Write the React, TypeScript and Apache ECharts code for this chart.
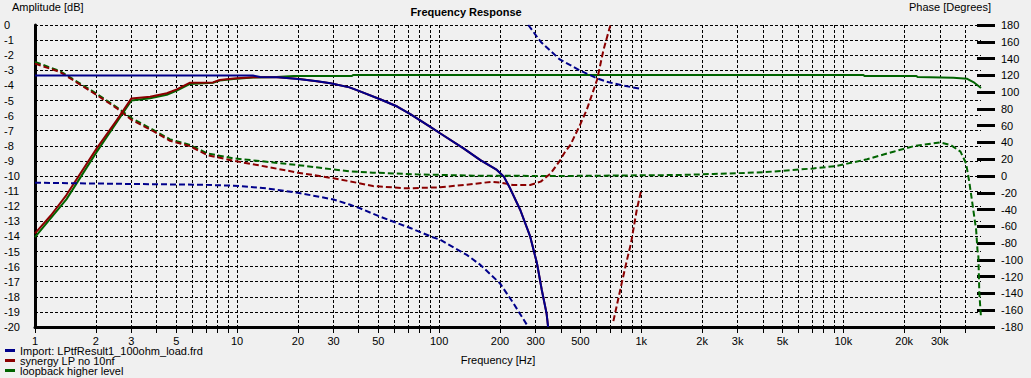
import React, { useEffect, useRef } from 'react';
import * as echarts from 'echarts';

const FONT = '"Liberation Sans", Arial, sans-serif';

const seriesNames = ['Import: LPtfResult1_100ohm_load.frd', 'synergy LP no 10nf', 'loopback higher level'];
const seriesColors = ['#00008b', '#8b0000', '#006400'];

const gridFreqs = [
  1, 2, 3, 4, 5, 6, 7, 8, 9,
  10, 20, 30, 40, 50, 60, 70, 80, 90,
  100, 200, 300, 400, 500, 600, 700, 800, 900,
  1000, 2000, 3000, 4000, 5000, 6000, 7000, 8000, 9000,
  10000, 20000, 30000, 40000,
];
const labelFreqs = [1, 2, 3, 5, 10, 20, 30, 50, 100, 200, 300, 500, 1000, 2000, 3000, 5000, 10000, 20000, 30000];

// Magnitude [dB] as [Hz, dB]
const importMag: [number, number][] = [
  [1, -3.35], [12, -3.35], [13, -3.45], [16, -3.46], [20, -3.57], [25, -3.72], [29, -3.86], [36, -4.13],
  [40.6, -4.4], [51, -4.92], [62, -5.4], [72, -5.9], [90, -6.73], [101, -7.17], [132, -8.17], [160, -8.95],
  [193, -9.6], [209, -10.04], [225, -10.85], [252, -12.25], [282, -14.0], [305, -15.8], [322, -17.55],
  [340, -19.1], [346, -20],
];
const synergyMag: [number, number][] = [
  [1, -13.8], [1.2, -12.6], [1.43, -11.26], [2.02, -8.17], [2.54, -6.3], [3, -4.86], [3.71, -4.75],
  [4.49, -4.52], [5.03, -4.26], [5.85, -3.82], [7.6, -3.8], [8.2, -3.64], [9.6, -3.55], [12, -3.46],
  [15.7, -3.46], [20.5, -3.58], [29, -3.86], [36, -4.13], [40.6, -4.4], [51, -4.92], [62, -5.4],
  [72, -5.9], [90, -6.73], [101, -7.17], [132, -8.17], [160, -8.95], [193, -9.6], [209, -10.04],
  [225, -10.85], [252, -12.25], [282, -14.0], [305, -15.8], [322, -17.55], [340, -19.1], [346, -20],
];
const loopbackMag: [number, number][] = [
  [1, -14.05], [1.43, -11.55], [2.02, -8.4], [3, -5.0], [3.71, -4.85], [4.49, -4.62], [5.03, -4.35],
  [5.85, -3.9], [7.6, -3.82], [8.2, -3.68], [9.6, -3.57], [12, -3.48], [15.7, -3.45], [19, -3.38],
  [37, -3.38], [37.5, -3.31], [12600, -3.31], [12700, -3.38], [23000, -3.38], [23300, -3.44],
  [35000, -3.5], [41000, -3.56], [44500, -3.82], [48000, -4.17],
];

// Phase [deg] as [Hz, deg]; wrapped parts are separate segments
const importPhaseA: [number, number][] = [
  [1, -8], [3, -9.5], [6.6, -10.4], [9.6, -11.5], [14, -14.7], [20, -20], [30, -28], [36, -34],
  [40.6, -38.5], [51, -48.5], [72, -62], [93, -73], [101, -76], [137, -94], [160, -106], [200, -128],
  [232, -151], [260, -170], [276, -180],
];
const importPhaseB: [number, number][] = [
  [276, 180], [286, 175], [318, 160], [395, 139], [500, 125.5], [604, 116.5], [673, 112.4], [790, 108.5], [1000, 103.7],
];
const synergyPhaseA: [number, number][] = [
  [1, 134], [1.33, 124], [2.02, 96.6], [2.54, 80.7], [3.0, 67], [3.71, 55.5], [4.66, 42], [5.85, 35.6],
  [7.1, 25], [9.6, 18.2], [14, 11], [20, 4], [30, -2.7], [36.4, -6.5], [47, -12], [69, -14.7], [101, -13.5],
  [148, -9.5], [180, -7], [200, -7.8], [232, -10.7], [282, -10.7], [318, -6.7], [356, 3], [395, 18],
  [420, 29], [446, 37], [500, 62], [537, 78.7], [604, 114.4], [650, 150], [700, 178], [703, 180],
];
const synergyPhaseB: [number, number][] = [
  [728, -173], [800, -128], [850, -100], [890, -80], [950, -40.5], [1000, -16.7],
];
const loopbackPhase: [number, number][] = [
  [1, 136], [1.33, 125], [2.02, 98], [2.54, 82], [3.0, 69], [3.71, 57], [4.66, 43.7], [5.85, 37], [7.1, 27],
  [9.6, 21], [14, 17], [20, 13], [36, 5.5], [47, 4], [77, 2], [148, 0.4], [400, 0], [1560, 1.2],
  [2270, 2.4], [4000, 4.4], [5500, 7], [7100, 9], [9300, 12], [13100, 20], [17700, 29], [22300, 35.6],
  [30000, 40], [34000, 37], [38000, 29], [40500, 15], [42000, -7], [43500, -32.5], [45400, -64],
  [46100, -88], [46600, -96], [47100, -140], [48000, -168.5],
];

const fmtFreq = (v: number) => {
  const r = Math.round(v);
  return r >= 1000 ? Math.round(r / 1000) + 'k' : String(r);
};

export default function App() {
  const ref = useRef<HTMLDivElement>(null);
  useEffect(() => {
    document.body.style.margin = '0';
    const chart = echarts.init(ref.current!, undefined, { renderer: 'svg' });
    const magLine = (name: string, color: string, data: [number, number][]) => ({
      type: 'line', name, data, yAxisIndex: 0, showSymbol: false, symbol: 'none',
      lineStyle: { color, width: 2 }, itemStyle: { color }, silent: true,
    });
    const phaseLine = (name: string, color: string, data: [number, number][]) => ({
      type: 'line', name, data, yAxisIndex: 1, showSymbol: false, symbol: 'none',
      lineStyle: { color, width: 2, type: [6, 3] }, itemStyle: { color }, silent: true,
    });
    chart.setOption({
      animation: false,
      backgroundColor: '#f0f0f0',
      textStyle: { fontFamily: FONT },
      grid: { left: 35, top: 25, right: 50, bottom: 51, containLabel: false },
      legend: {
        orient: 'vertical', left: 5, top: 345, padding: 0, itemGap: -1,
        itemWidth: 10, itemHeight: 3, icon: 'rect', selectedMode: false,
        data: seriesNames,
        textStyle: { fontSize: 11, color: '#000', fontFamily: FONT },
      },
      xAxis: {
        type: 'log', logBase: 10, min: 1, max: 48000,
        axisLine: { show: true, onZero: false, lineStyle: { color: '#000', width: 3 } },
        axisTick: { show: true, length: 6, customValues: gridFreqs, lineStyle: { color: '#000', width: 1 } },
        axisLabel: {
          customValues: labelFreqs, formatter: fmtFreq, margin: 8,
          color: '#000', fontSize: 11, fontFamily: FONT,
        },
        splitLine: { show: true, lineStyle: { color: '#000', width: 1, type: [3, 2] } },
        minorTick: { show: false },
      },
      yAxis: [
        {
          type: 'value', min: -20, max: 0, interval: 1, position: 'left',
          axisLine: { show: true, onZero: false, lineStyle: { color: '#000', width: 3 } },
          axisTick: { show: false },
          axisLabel: { align: 'left', margin: 31, color: '#000', fontSize: 11, fontFamily: FONT },
          splitLine: { show: true, lineStyle: { color: '#000', width: 1, type: [3, 2] } },
        },
        {
          type: 'value', min: -180, max: 180, interval: 20, position: 'right', offset: -4,
          axisLine: { show: false, onZero: false },
          axisTick: { show: true, length: 18, lineStyle: { color: '#000', width: 3 } },
          axisLabel: { margin: 24, color: '#000', fontSize: 11, fontFamily: FONT },
          splitLine: { show: false },
        },
      ],
      graphic: [
        { type: 'text', left: 12, top: 1, style: { text: 'Amplitude [dB]', fontSize: 11, fontFamily: FONT, fill: '#000' } },
        { type: 'text', left: 909, top: 1, style: { text: 'Phase [Degrees]', fontSize: 11, fontFamily: FONT, fill: '#000' } },
        { type: 'text', x: 466, y: 12, style: { text: 'Frequency Response', align: 'center', verticalAlign: 'middle', textAlign: 'center', textVerticalAlign: 'middle', fontSize: 11, fontWeight: 'bold', fontFamily: FONT, fill: '#000' } },
        { type: 'text', x: 498, y: 360, style: { text: 'Frequency [Hz]', align: 'center', verticalAlign: 'middle', textAlign: 'center', textVerticalAlign: 'middle', fontSize: 11, fontFamily: FONT, fill: '#000' } },
      ],
      series: [
        magLine(seriesNames[2], seriesColors[2], loopbackMag),
        phaseLine(seriesNames[2], seriesColors[2], loopbackPhase),
        magLine(seriesNames[1], seriesColors[1], synergyMag),
        phaseLine(seriesNames[1], seriesColors[1], synergyPhaseA),
        phaseLine(seriesNames[1], seriesColors[1], synergyPhaseB),
        magLine(seriesNames[0], seriesColors[0], importMag),
        phaseLine(seriesNames[0], seriesColors[0], importPhaseA),
        phaseLine(seriesNames[0], seriesColors[0], importPhaseB),
      ],
    });
    return () => chart.dispose();
  }, []);
  return <div ref={ref} style={{ position: 'absolute', left: 0, top: 0, width: 1031, height: 378 }} />;
}
